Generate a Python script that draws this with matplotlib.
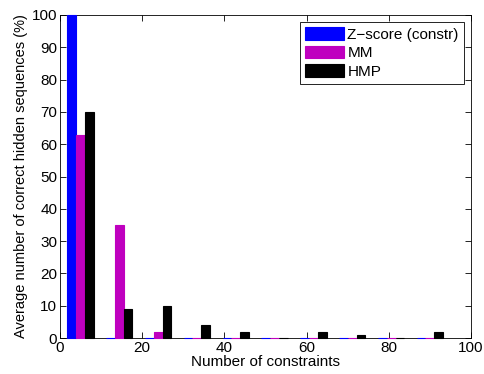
import matplotlib
matplotlib.use('Agg')
import matplotlib.pyplot as plt
import numpy as np

plt.rcParams['font.family'] = ['Liberation Sans', 'DejaVu Sans']
plt.rcParams['font.size'] = 11

# group positions (number of constraints) and series values (%)
constraints = [5, 14.4, 23.9, 33.3, 42.8, 52.2, 61.7, 71.1, 80.6, 90]
zscore = [100, 0, 0, 0, 0, 0, 0, 0, 0, 0]
mm = [63, 35, 2, 0, 0, 0, 0, 0, 0, 0]
hmp = [70, 9, 10, 4, 2, 0, 2, 1, 0, 2]
labels = ['Z\u2212score (constr)', 'MM', 'HMP']
colors = ['#0000ff', '#bf00bf', '#000000']

fig = plt.figure(figsize=(4.84, 3.74), dpi=100)
ax = fig.add_axes([0.124, 0.096, 0.849, 0.864])

x = np.array(constraints)
w = 2.15
for i, (vals, lab, col) in enumerate(zip([zscore, mm, hmp], labels, colors)):
    ax.bar(x + (i - 1) * w, vals, width=w, color=col, edgecolor=col,
           linewidth=0.8, label=lab, clip_on=False, zorder=3)

ax.set_xlim(0, 100)
ax.set_ylim(0, 100)
ax.set_xticks(range(0, 101, 20))
ax.set_yticks(range(0, 101, 10))
ax.tick_params(direction='in', top=True, right=True, length=4, width=0.6,
               pad=2)
for s in ax.spines.values():
    s.set_linewidth(0.6)
ax.set_xlabel('Number of constraints', labelpad=0)
ax.set_ylabel('Average number of correct hidden sequences (%)', labelpad=3,
              fontsize=10.5)

leg = ax.legend(loc='upper right', fancybox=False, edgecolor='black',
                borderaxespad=0.45, handlelength=2.55, handleheight=0.9,
                labelspacing=0.25, handletextpad=0.2, borderpad=0.35,
                framealpha=1)
leg.get_frame().set_linewidth(0.6)
leg.set_zorder(5)

plt.savefig('out.png', dpi=100)
